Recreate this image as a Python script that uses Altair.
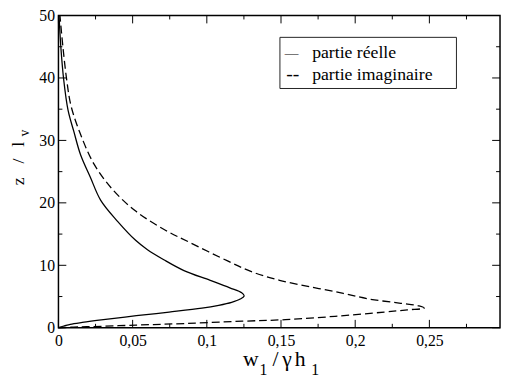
import altair as alt
import pandas as pd

# ---- data ----
z_reelle = [0, 0.12, 0.3, 0.55, 0.85, 1.3, 1.93, 2.51, 3.14, 3.6, 4.08, 4.6, 5.1, 5.6, 6.39, 7.59,
            9.16, 10.9, 12.5, 14.0, 17.0, 20.4, 24.1, 27.7, 31.4, 34.8, 39.8, 45, 50]
x_reelle = [0, 0.0012, 0.004, 0.008, 0.016, 0.0303, 0.0525, 0.0746, 0.0967, 0.108, 0.1167, 0.1225,
            0.1252, 0.1235, 0.1155, 0.1023, 0.0846, 0.071, 0.060, 0.052, 0.040, 0.0285, 0.0215,
            0.0149, 0.0104, 0.0065, 0.0035, 0.0016, 0.0004]
z_imag = [0, 0.08, 0.16, 0.42, 0.68, 1.05, 1.3, 1.83, 2.51, 2.87, 3.14, 3.5, 3.92, 4.6, 5.5, 6.5,
          7.6, 8.9, 10.7, 13.6, 15.7, 18.6, 22, 26.2, 30.9, 35.5, 39.8, 45, 50]
x_imag = [0, 0.008, 0.019, 0.0525, 0.0857, 0.124, 0.153, 0.1864, 0.2196, 0.2351, 0.2465, 0.2430,
          0.2307, 0.2095, 0.192, 0.171, 0.149, 0.131, 0.114, 0.089, 0.0715, 0.0525, 0.037, 0.024,
          0.015, 0.0085, 0.0055, 0.003, 0.001]

x_major = [0, 0.05, 0.1, 0.15, 0.2, 0.25]
x_minor = [0.025, 0.075, 0.125, 0.175, 0.225, 0.275]
y_major = [0, 10, 20, 30, 40, 50]
y_minor = [5, 15, 25, 35, 45]

legend_labels = ["partie réelle", "partie imaginaire"]
legend_marks = ["—", "--"]
x_title_parts = ["w", "1", "/", "γ", "h", "1"]
y_title_parts = ["z", "/", "l", "v"]

# ---- layout ----
W, H = 449, 317.5
FONT = "'Liberation Serif'"
MAJ, MIN = 8, 4

xs = alt.Scale(domain=[0, 0.2976], nice=False, zero=False)
ys = alt.Scale(domain=[0, 50], nice=False, zero=False)

df_r = pd.DataFrame({"x": x_reelle, "z": z_reelle, "i": list(range(len(z_reelle)))})
df_i = pd.DataFrame({"x": x_imag, "z": z_imag, "i": list(range(len(z_imag)))})

x_axis = alt.Axis(values=x_major, labelExpr="replace(toString(datum.value), '.', ',')",
                  ticks=False, tickSize=0, domain=False, grid=False, title=None,
                  labelFlush=False, labelOverlap=False, labelPadding=5,
                  labelFont=FONT, labelFontSize=16, labelColor="black")
y_axis = alt.Axis(values=y_major, ticks=False, tickSize=0, domain=False, grid=False, title=None,
                  labelFlush=False, labelOverlap=False, labelPadding=4,
                  labelFont=FONT, labelFontSize=16, labelColor="black")

line_r = alt.Chart(df_r).mark_line(color="black", strokeWidth=1.3, interpolate="catmull-rom").encode(
    x=alt.X("x:Q", scale=xs, axis=x_axis),
    y=alt.Y("z:Q", scale=ys, axis=y_axis),
    order="i:Q",
)
line_i = alt.Chart(df_i).mark_line(color="black", strokeWidth=1.3, strokeDash=[8, 4],
                                   interpolate="catmull-rom").encode(
    x=alt.X("x:Q", scale=xs, axis=x_axis),
    y=alt.Y("z:Q", scale=ys, axis=y_axis),
    order="i:Q",
)


def xticks(vals, length):
    d = pd.DataFrame({"x": vals})
    bot = alt.Chart(d).mark_rule(color="black", strokeWidth=1).encode(
        x=alt.X("x:Q", scale=xs, axis=x_axis), y=alt.value(H), y2=alt.value(H - length))
    top = alt.Chart(d).mark_rule(color="black", strokeWidth=1).encode(
        x=alt.X("x:Q", scale=xs, axis=x_axis), y=alt.value(0), y2=alt.value(length))
    return [bot, top]


def yticks(vals, length):
    d = pd.DataFrame({"z": vals})
    left = alt.Chart(d).mark_rule(color="black", strokeWidth=1).encode(
        y=alt.Y("z:Q", scale=ys, axis=y_axis), x=alt.value(0), x2=alt.value(length))
    right = alt.Chart(d).mark_rule(color="black", strokeWidth=1).encode(
        y=alt.Y("z:Q", scale=ys, axis=y_axis), x=alt.value(W), x2=alt.value(W - length))
    return [left, right]


def label(text, x, y, size, align="center", angle=0):
    return alt.Chart(pd.DataFrame({"t": [text]})).mark_text(
        font=FONT, fontSize=size, color="black", align=align, baseline="alphabetic", angle=angle
    ).encode(x=alt.value(x), y=alt.value(y), text="t:N")


ticks = xticks(x_major, MAJ) + xticks(x_minor, MIN) + yticks(y_major, MAJ) + yticks(y_minor, MIN)

# x title  w1 / γ h1
xt = [
    label(x_title_parts[0], 195.7, 356.8, 22),
    label(x_title_parts[1], 208.5, 365.8, 16),
    label(x_title_parts[2], 220.7, 356.8, 22),
    label(x_title_parts[3], 232.4, 356.8, 22),
    label(x_title_parts[4], 245.7, 356.8, 22),
    label(x_title_parts[5], 261.0, 365.8, 16),
]
# y title  z / lv (rotated)
yt = [
    label(y_title_parts[0], -35.0, 168.5, 18, angle=270),
    label(y_title_parts[1], -35.0, 148.0, 18, angle=270),
    label(y_title_parts[2], -35.0, 131.0, 18, angle=270),
    label(y_title_parts[3], -29.5, 119.5, 14, angle=270),
]

# legend box
box = alt.Chart(pd.DataFrame({"a": [0]})).mark_rect(
    fill="white", stroke="#222222", strokeWidth=1
).encode(x=alt.value(225.2), x2=alt.value(404.7), y=alt.value(22.2), y2=alt.value(74.2))
leg = [
    box,
    label(legend_marks[0], 237.2, 43.5, 14),
    label(legend_marks[1], 238.2, 65.8, 20),
    label(legend_labels[0], 258.0, 43.5, 18, align="left"),
    label(legend_labels[1], 258.0, 65.8, 18, align="left"),
]

chart = alt.layer(line_r, line_i, *ticks, *leg, *xt, *yt).properties(
    width=W, height=H,
    padding={"left": 51.3, "top": 4.5, "right": 1, "bottom": 51},
    autosize=alt.AutoSizeParams(type="none"),
).configure_view(
    stroke="black", strokeWidth=1.5
)

chart.save("out.html", embed_options={"renderer": "svg", "actions": False})
